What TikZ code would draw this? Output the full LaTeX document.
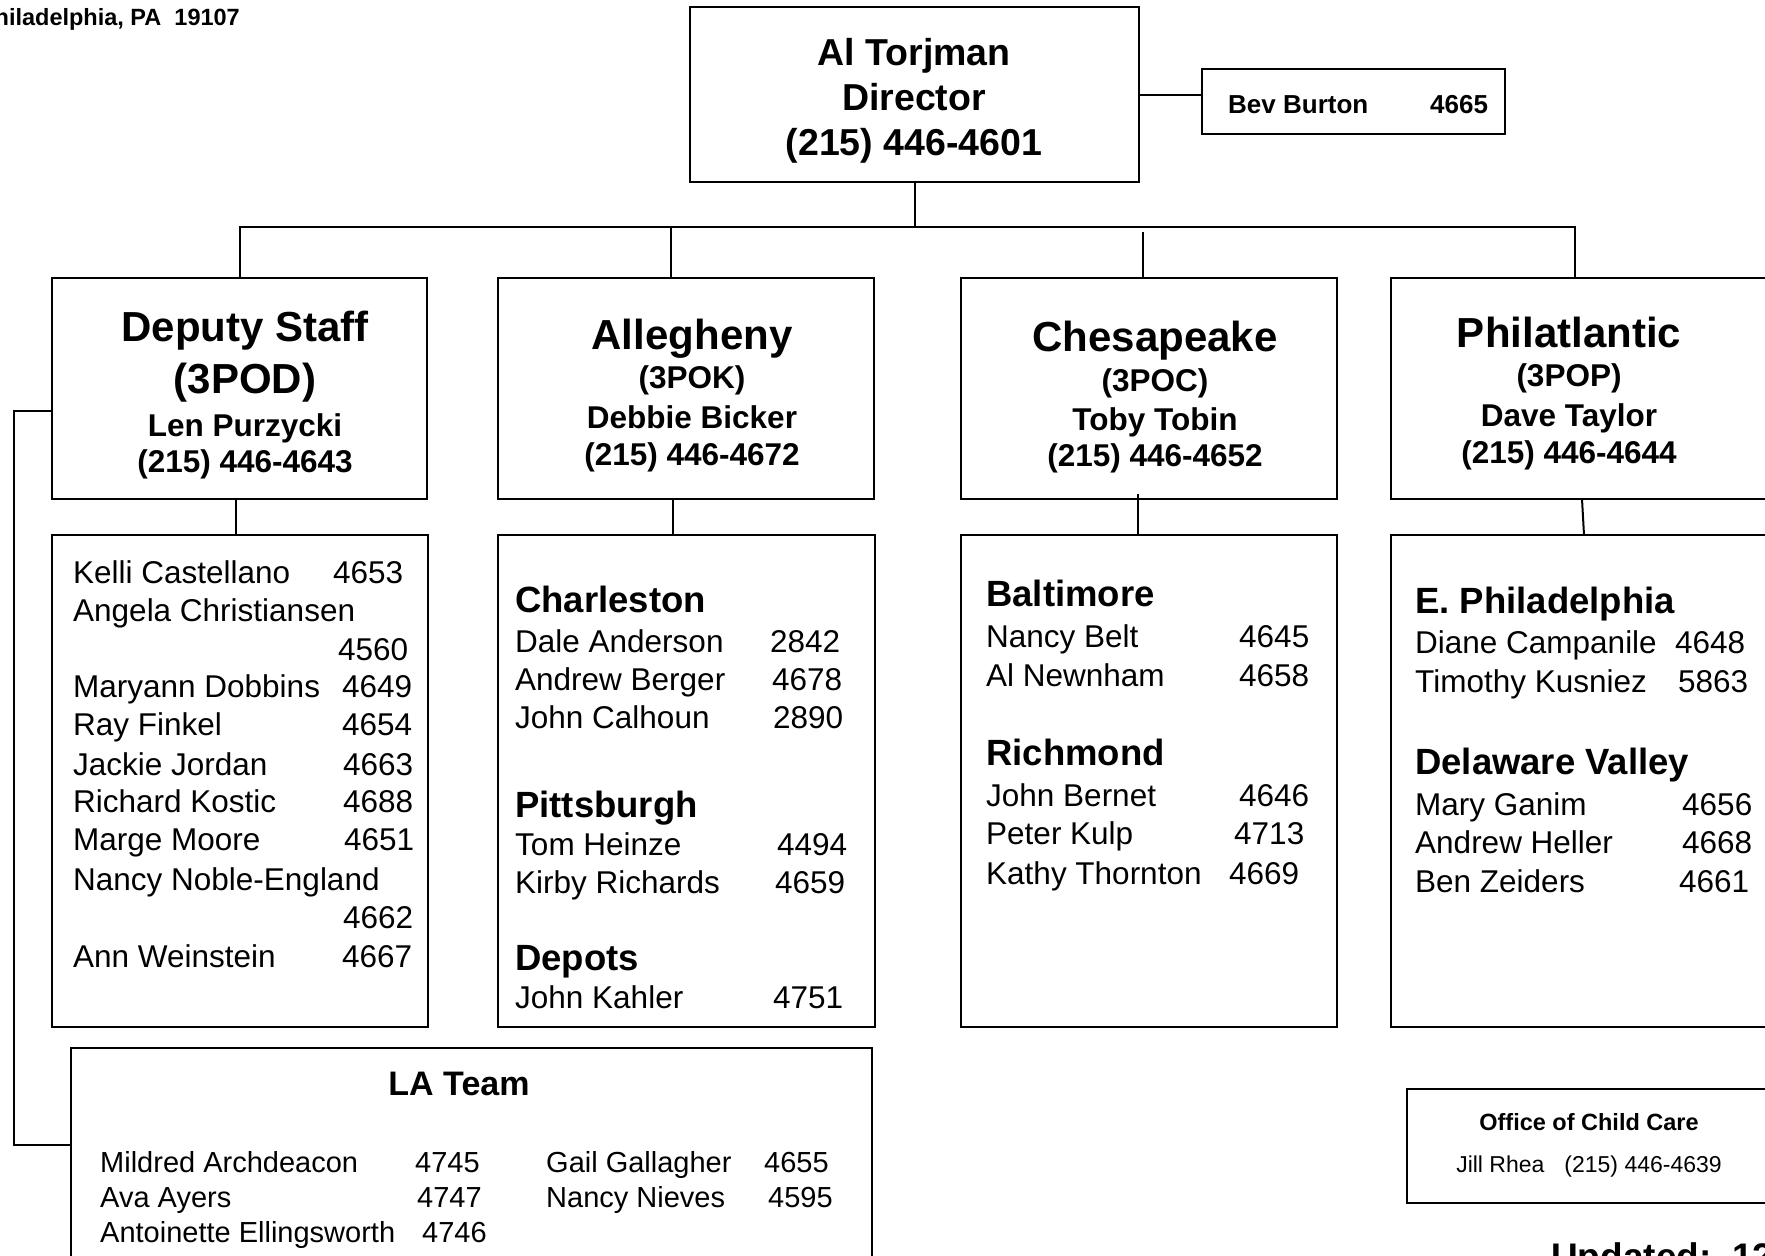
\documentclass[tikz,border=0pt]{standalone}
\usepackage{fontspec}
\setmainfont{Liberation Sans}
\usetikzlibrary{calc}
\newcommand\fs[1]{\fontsize{#1}{#1}\selectfont}
\newcommand\ent[3]{\makebox[#1pt][l]{#2}#3}
\begin{document}
\begin{tikzpicture}[x=1pt,y=-1pt,
  rbox/.style={draw, line width=2pt, inner sep=0pt, outer sep=0pt, anchor=north west},
  conn/.style={line width=2pt},
  lst/.style={anchor=base west, inner sep=0pt, font={\fs{31.5}}},
  lsthead/.style={anchor=base west, inner sep=0pt, font={\bfseries\fs{36.5}}},
  big/.style={anchor=base, inner sep=0pt, font={\bfseries\fs{42}}},
  mid/.style={anchor=base, inner sep=0pt, font={\bfseries\fs{31.5}}},
  dirtxt/.style={anchor=base, inner sep=0pt, font={\bfseries\fs{37.5}}},
  latxt/.style={anchor=base west, inner sep=0pt, font={\fs{29}}}]
\useasboundingbox (0,0) rectangle (1765,1256);
\clip (0,0) rectangle (1765,1256);

% address fragment
\node[anchor=base east, inner sep=0pt, font={\bfseries\fs{23.5}}] (addr) at (240,25) {Philadelphia, PA~~19107};

% director
\node[rbox, minimum width=449pt, minimum height=175pt] (dir) at (690,7) {};
\node[dirtxt] (dir1) at (914,65) {Al Torjman};
\node[dirtxt] (dir2) at (914,110) {Director};
\node[dirtxt] (dir3) at (914,155) {(215) 446-4601};

% Bev Burton
\node[rbox, minimum width=303pt, minimum height=65pt] (bev) at (1202,69) {};
\node[anchor=base west, inner sep=0pt, font={\bfseries\fs{26}}] (bev1) at (1228,113) {\ent{202}{Bev Burton}{4665}};

% level 2 boxes
\node[rbox, minimum width=375pt, minimum height=221pt] (dep) at (52,278) {};
\node[rbox, minimum width=376pt, minimum height=221pt] (alg) at (498,278) {};
\node[rbox, minimum width=376pt, minimum height=221pt] (che) at (961,278) {};
\node[rbox, minimum width=420pt, minimum height=221pt] (phi) at (1391,278) {};

\node[big] (dep1) at (245,341) {Deputy Staff};
\node[big] (dep2) at (245,393) {(3POD)};
\node[mid] (dep3) at (245,436) {Len Purzycki};
\node[mid] (dep4) at (245,472) {(215) 446-4643};

\node[big] (alg1) at (692,349) {Allegheny};
\node[mid] (alg2) at (692,388) {(3POK)};
\node[mid] (alg3) at (692,428) {Debbie Bicker};
\node[mid] (alg4) at (692,465) {(215) 446-4672};

\node[big] (che1) at (1155,351) {Chesapeake};
\node[mid] (che2) at (1155,391) {(3POC)};
\node[mid] (che3) at (1155,430) {Toby Tobin};
\node[mid] (che4) at (1155,466) {(215) 446-4652};

\node[big] (phi1) at (1569,347) {Philatlantic};
\node[mid] (phi2) at (1569,386) {(3POP)};
\node[mid] (phi3) at (1569,426) {Dave Taylor};
\node[mid] (phi4) at (1569,463) {(215) 446-4644};

% level 3 boxes
\node[rbox, minimum width=376pt, minimum height=492pt] (depl) at (52,535) {};
\node[rbox, minimum width=377pt, minimum height=492pt] (algl) at (498,535) {};
\node[rbox, minimum width=376pt, minimum height=492pt] (chel) at (961,535) {};
\node[rbox, minimum width=420pt, minimum height=492pt] (phil) at (1391,535) {};

% Deputy list
\node[lst] (d1) at (73,583) {\ent{260}{Kelli Castellano}{4653}};
\node[lst] (d2) at (73,621) {Angela Christiansen};
\node[lst] (d3) at (73,660) {\ent{265}{}{4560}};
\node[lst] (d4) at (73,697) {\ent{269}{Maryann Dobbins}{4649}};
\node[lst] (d5) at (73,735) {\ent{269}{Ray Finkel}{4654}};
\node[lst] (d6) at (73,775) {\ent{270}{Jackie Jordan}{4663}};
\node[lst] (d7) at (73,812) {\ent{270}{Richard Kostic}{4688}};
\node[lst] (d8) at (73,850) {\ent{271}{Marge Moore}{4651}};
\node[lst] (d9) at (73,890) {Nancy Noble-England};
\node[lst] (d10) at (73,928) {\ent{270}{}{4662}};
\node[lst] (d11) at (73,967) {\ent{269}{Ann Weinstein}{4667}};

% Allegheny list
\node[lsthead] (a0) at (515,612) {Charleston};
\node[lst] (a1) at (515,652) {\ent{255}{Dale Anderson}{2842}};
\node[lst] (a2) at (515,690) {\ent{257}{Andrew Berger}{4678}};
\node[lst] (a3) at (515,728) {\ent{258}{John Calhoun}{2890}};
\node[lsthead] (a4) at (515,817) {Pittsburgh};
\node[lst] (a5) at (515,855) {\ent{262}{Tom Heinze}{4494}};
\node[lst] (a6) at (515,893) {\ent{260}{Kirby Richards}{4659}};
\node[lsthead] (a7) at (515,970) {Depots};
\node[lst] (a8) at (515,1008) {\ent{258}{John Kahler}{4751}};

% Chesapeake list
\node[lsthead] (c0) at (986,606) {Baltimore};
\node[lst] (c1) at (986,647) {\ent{253}{Nancy Belt}{4645}};
\node[lst] (c2) at (986,686) {\ent{253}{Al Newnham}{4658}};
\node[lsthead] (c3) at (986,765) {Richmond};
\node[lst] (c4) at (986,806) {\ent{253}{John Bernet}{4646}};
\node[lst] (c5) at (986,844) {\ent{248}{Peter Kulp}{4713}};
\node[lst] (c6) at (986,884) {\ent{243}{Kathy Thornton}{4669}};

% Philatlantic list
\node[lsthead] (p0) at (1415,613) {E. Philadelphia};
\node[lst] (p1) at (1415,653) {\ent{260}{Diane Campanile}{4648}};
\node[lst] (p2) at (1415,692) {\ent{263}{Timothy Kusniez}{5863}};
\node[lsthead] (p3) at (1415,774) {Delaware Valley};
\node[lst] (p4) at (1415,815) {\ent{267}{Mary Ganim}{4656}};
\node[lst] (p5) at (1415,853) {\ent{267}{Andrew Heller}{4668}};
\node[lst] (p6) at (1415,892) {\ent{264}{Ben Zeiders}{4661}};

% LA Team
\node[rbox, minimum width=801pt, minimum height=260pt] (la) at (71,1048) {};
\node[anchor=base, inner sep=0pt, font={\bfseries\fs{34}}] (la0) at (459,1095) {LA Team};
\node[latxt] (la1) at (100,1172) {\ent{315}{Mildred Archdeacon}{4745}};
\node[latxt] (la2) at (100,1207) {\ent{317}{Ava Ayers}{4747}};
\node[latxt] (la3) at (100,1242) {\ent{322}{Antoinette Ellingsworth}{4746}};
\node[latxt] (la4) at (546,1172) {\ent{218}{Gail Gallagher}{4655}};
\node[latxt] (la5) at (546,1207) {\ent{222}{Nancy Nieves}{4595}};

% Office of Child Care
\node[rbox, minimum width=400pt, minimum height=114pt] (occ) at (1407,1089) {};
\node[anchor=base, inner sep=0pt, font={\bfseries\fs{23.5}}] (occ1) at (1589,1130) {Office of Child Care};
\node[anchor=base, inner sep=0pt, font={\fs{23}}] (occ2) at (1589,1172) {Jill Rhea\hspace{20pt}(215) 446-4639};

% updated
\node[anchor=base west, inner sep=0pt, font={\bfseries\fs{37}}] (upd) at (1551,1269) {Updated:~~12};

% connectors
\coordinate (busL) at (239.5,227);
\coordinate (busR) at (1575,227);
\coordinate (busA) at (671,227);
\coordinate (busC) at (1143,232);
\draw[conn] (dir.south) -- (dir.south |- busL);
\draw[conn] ([xshift=-1pt]busL) -- ([xshift=1pt]busR);
\draw[conn] (busL) -- (dep.north);
\draw[conn] (busA) -- (busA |- alg.north);
\draw[conn] (busC) -- (busC |- che.north);
\draw[conn] (busR) -- (busR |- phi.north);
\draw[conn] ([yshift=-0.5pt]dir.east) -- ([yshift=-0.5pt]dir.east -| bev.west);

\draw[conn] ([xshift=-3.5pt]dep.south) -- ([xshift=-3.5pt]dep.south |- depl.north);
\draw[conn] ([xshift=-13pt]alg.south) -- ([xshift=-13pt]alg.south |- algl.north);
\draw[conn] ([xshift=-11pt,yshift=5pt]che.south) -- ([xshift=-11pt]che.south |- chel.north);
\coordinate (ptop) at (1582,499);
\coordinate (pbot) at (1584,535);
\draw[conn] (ptop) -- (pbot);

\coordinate (brk) at (14,1145);
\draw[conn] ([yshift=-22.5pt]dep.west) -| (brk) -- (brk -| la.west);
\end{tikzpicture}
\end{document}
